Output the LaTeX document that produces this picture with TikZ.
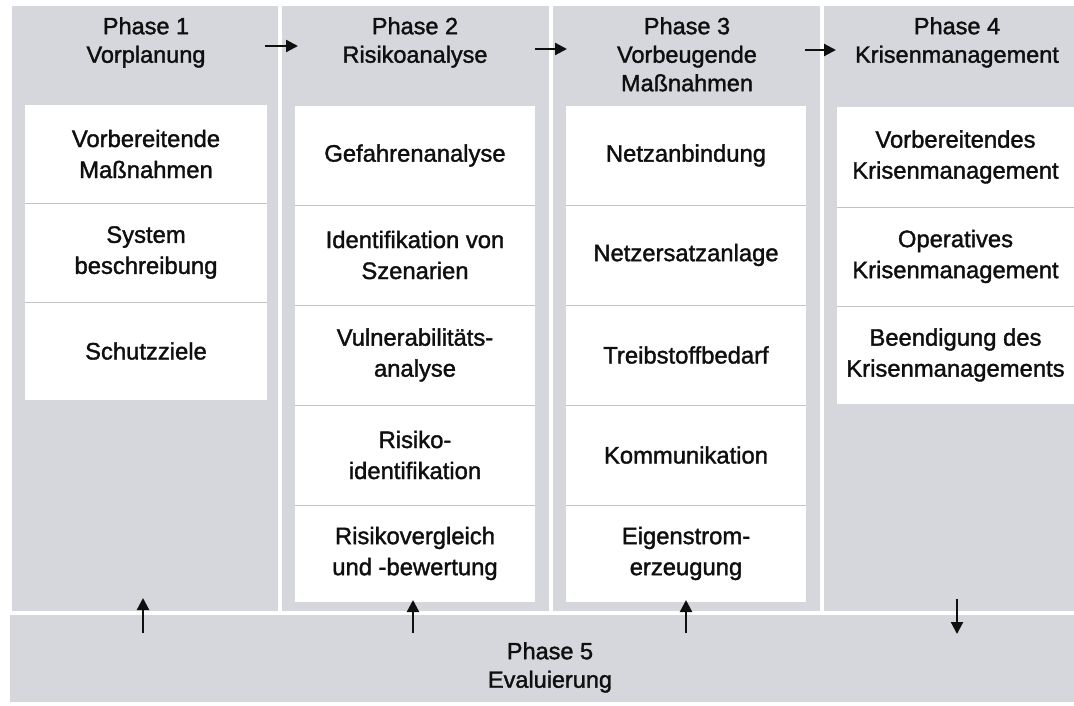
\documentclass[tikz,border=0pt]{standalone}
\usepackage{fontspec}
\setmainfont{Liberation Sans}[FakeBold=1.5]
\usetikzlibrary{arrows.meta}
\definecolor{phasegray}{RGB}{213,215,220}
\definecolor{txt}{RGB}{15,15,15}
\definecolor{sepline}{RGB}{195,195,198}
\begin{document}
\begin{tikzpicture}[x=1pt,y=-1pt,
  phase/.style={fill=phasegray, draw=none, inner sep=0pt, anchor=north west},
  cell/.style={fill=white, draw=none, inner sep=0pt, align=center, text=txt,
    font=\fontsize{23.8}{31}\selectfont},
  head/.style={align=center, text=txt, inner sep=0pt, anchor=north,
    font=\fontsize{23.5}{28.5}\selectfont},
  cellsep/.style={draw=sepline, line width=1pt},
  flow/.style={line width=2.2pt, draw=txt, -{Triangle[length=12pt,width=12pt]}}
]
\path[use as bounding box, fill=white] (0,0) rectangle (1074,705);

% phase backgrounds
\node[phase, minimum width=266pt, minimum height=605pt] (p1) at (12,6) {};
\node[phase, minimum width=267pt, minimum height=605pt] (p2) at (282,6) {};
\node[phase, minimum width=267pt, minimum height=605pt] (p3) at (553,6) {};
\node[phase, minimum width=250pt, minimum height=605pt] (p4) at (824,6) {};
\node[phase, minimum width=1064pt, minimum height=87pt] (p5) at (10,615) {};

% headers
\node[head] (h1) at (146,17) {Phase 1\\Vorplanung};
\node[head] (h2) at (415,17) {Phase 2\\Risikoanalyse};
\node[head] (h3) at (687,17) {Phase 3\\Vorbeugende\\Maßnahmen};
\node[head] (h4) at (957,17) {Phase 4\\Krisenmanagement};
\node[head] (h5) at (550,642) {Phase 5\\Evaluierung};

% column 1
\begin{scope}[every node/.append style={minimum width=242pt}]
\node[cell, minimum height=98pt] (c11) at (146,154) {Vorbereitende\\Maßnahmen};
\node[cell, minimum height=99pt] (c12) at (146,252.5) {System\\beschreibung};
\node[cell, minimum height=98pt] (c13) at (146,351) {Schutzziele};
\end{scope}

% column 2
\begin{scope}[every node/.append style={minimum width=240pt}]
\node[cell, minimum height=99pt]  (c21) at (415,155.5) {Gefahrenanalyse};
\node[cell, minimum height=100pt] (c22) at (415,255) {Identifikation von\\Szenarien};
\node[cell, minimum height=100pt] (c23) at (415,355) {Vulnerabilitäts-\\analyse};
\node[cell, minimum height=100pt] (c24) at (415,455) {Risiko-\\identifikation};
\node[cell, minimum height=97pt]  (c25) at (415,553.5) {Risikovergleich\\und -bewertung};
\end{scope}

% column 3
\begin{scope}[every node/.append style={minimum width=240pt}]
\node[cell, minimum height=99pt]  (c31) at (686,155.5) {Netzanbindung};
\node[cell, minimum height=100pt] (c32) at (686,255) {Netzersatzanlage};
\node[cell, minimum height=100pt] (c33) at (686,355) {Treibstoffbedarf};
\node[cell, minimum height=100pt] (c34) at (686,455) {Kommunikation};
\node[cell, minimum height=97pt]  (c35) at (686,553.5) {Eigenstrom-\\erzeugung};
\end{scope}

% column 4
\begin{scope}[every node/.append style={minimum width=237pt}]
\node[cell, minimum height=100pt] (c41) at (955.5,157) {Vorbereitendes\\Krisenmanagement};
\node[cell, minimum height=99pt]  (c42) at (955.5,256.5) {Operatives\\Krisenmanagement};
\node[cell, minimum height=98pt]  (c43) at (955.5,355) {Beendigung des\\Krisenmanagements};
\end{scope}

% separators between cells
\foreach \a/\b in {c11/c12,c12/c13,c21/c22,c22/c23,c23/c24,c24/c25,
                   c31/c32,c32/c33,c33/c34,c34/c35,c41/c42,c42/c43}
  \draw[cellsep] (\a.south west) -- (\a.south east);

% arrow end points
\coordinate (a12s) at (265,46);  \coordinate (a12e) at (298,46);
\coordinate (a23s) at (535,49);  \coordinate (a23e) at (567,49);
\coordinate (a34s) at (805,50);  \coordinate (a34e) at (836,50);
\coordinate (b1s) at (143,633);  \coordinate (b1e) at (143,598);
\coordinate (b2s) at (413,633);  \coordinate (b2e) at (413,600);
\coordinate (b3s) at (686,633);  \coordinate (b3e) at (686,600);
\coordinate (b4s) at (957,599);  \coordinate (b4e) at (957,634);

\draw[flow] (a12s) -- (a12e);
\draw[flow] (a23s) -- (a23e);
\draw[flow] (a34s) -- (a34e);
\draw[flow] (b1s) -- (b1e);
\draw[flow] (b2s) -- (b2e);
\draw[flow] (b3s) -- (b3e);
\draw[flow] (b4s) -- (b4e);
\end{tikzpicture}
\end{document}
